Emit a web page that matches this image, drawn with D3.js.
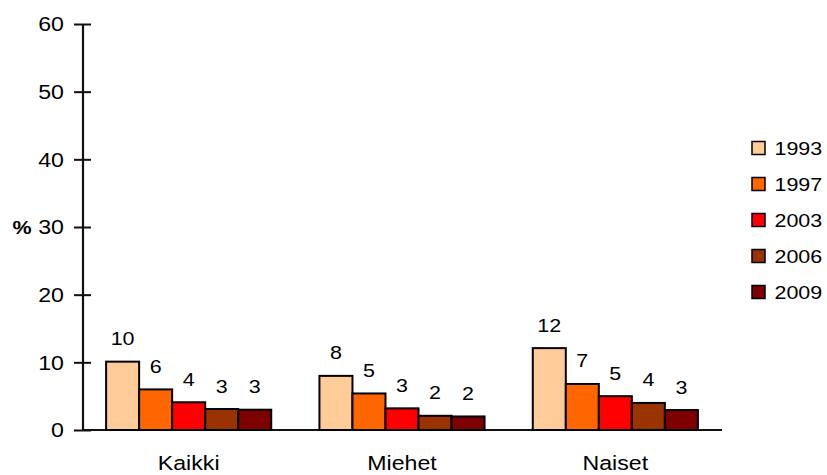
<!DOCTYPE html>
<html><head><meta charset="utf-8">
<script src="https://cdn.jsdelivr.net/npm/d3@7"></script>
<style>body{margin:0;background:#fff}svg{display:block}text{font-family:"Liberation Sans",Arial,sans-serif;fill:#000}</style>
</head><body><svg id="c" width="827" height="475"></svg>
<script>
const categories = ["Kaikki", "Miehet", "Naiset"];
const years = ["1993", "1997", "2003", "2006", "2009"];
const values1993 = [10.1, 8.0, 12.1];
const values1997 = [6.0, 5.4, 6.8];
const values2003 = [4.1, 3.2, 5.0];
const values2006 = [3.1, 2.1, 4.0];
const values2009 = [3.0, 2.0, 2.95];
const yTicks = [0, 10, 20, 30, 40, 50, 60];
const colors = ["#FFCC99", "#FF6600", "#FF0000", "#993300", "#7F0000"];

const series = [values1993, values1997, values2003, values2006, values2009];
const svg = d3.select("#c");
const SX = 1.13;

const x = d3.scaleBand().domain(categories).range([82, 722]).paddingInner(0.226).paddingOuter(0.113);
const xi = d3.scaleBand().domain(years).range([0, x.bandwidth()]).padding(0);
const y = d3.scaleLinear().domain([0, 60]).range([430, 24]);
const color = d3.scaleOrdinal().domain(years).range(colors);

function stext(g, x0, y0, str, size, anchor, weight) {
  g.append("text").attr("transform", `translate(${x0},${y0}) scale(${SX},1)`)
    .attr("text-anchor", anchor).style("font-size", size + "px")
    .style("font-weight", weight || "normal").text(str);
}

// x axis line
svg.append("line").attr("x1", 82).attr("x2", 722).attr("y1", y(0)).attr("y2", y(0))
  .attr("stroke", "#111").attr("stroke-width", 2);

// bars
const rows = [];
categories.forEach((c, ci) => years.forEach((yr, yi) => rows.push({c, yr, v: series[yi][ci]})));
const bars = svg.append("g");
bars.selectAll("rect").data(rows).join("rect")
  .attr("x", d => x(d.c) + xi(d.yr))
  .attr("y", d => y(d.v))
  .attr("width", xi.bandwidth())
  .attr("height", d => y(0) - y(d.v))
  .attr("fill", d => color(d.yr))
  .attr("stroke", "#000").attr("stroke-width", 2);

// value labels
const lg = svg.append("g");
rows.forEach(d => stext(lg, x(d.c) + xi(d.yr) + xi.bandwidth() / 2, y(d.v) - 16.5, String(Math.round(d.v)), 19, "middle"));

// y axis
const yAxis = d3.axisLeft(y).tickValues(yTicks).tickSize(0).tickFormat("");
const ya = svg.append("g").attr("transform", "translate(82.5,0)").call(yAxis);
ya.select(".domain").attr("stroke", "#111").attr("stroke-width", 2.2);
ya.selectAll(".tick").each(function(d) {
  const t = d3.select(this);
  t.append("line").attr("x1", -8.5).attr("x2", 8.5).attr("stroke", "#111").attr("stroke-width", 2);
});
const tl = svg.append("g");
yTicks.forEach(v => stext(tl, 64, y(v) + 7.3, String(v), 20.5, "end"));
stext(tl, 22, y(30) + 7.3, "%", 19, "middle", "bold");

// category labels
const cl = svg.append("g");
categories.forEach(c => stext(cl, x(c) + x.bandwidth() / 2, 470, c, 20.5, "middle"));

// legend
const leg = svg.append("g");
years.forEach((yr, i) => {
  const cy = 148 + i * 36;
  leg.append("rect").attr("x", 752).attr("y", cy - 6.5).attr("width", 13).attr("height", 13)
    .attr("fill", color(yr)).attr("stroke", "#000").attr("stroke-width", 1.5);
  stext(leg, 774.5, cy + 7, yr, 19, "start");
});
</script></body></html>
